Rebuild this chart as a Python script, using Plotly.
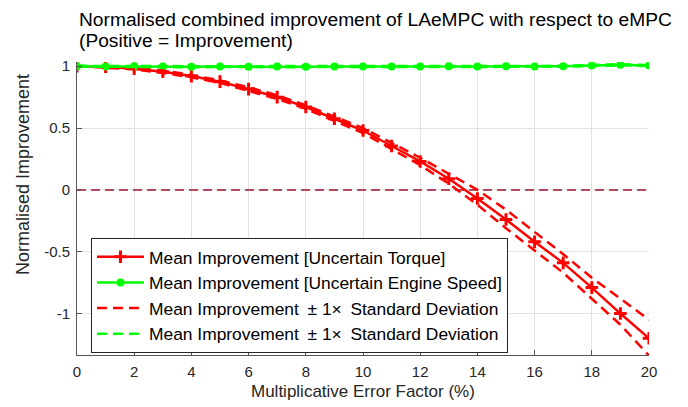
import plotly.graph_objects as go

# ---- data ----
x_factor = list(range(0, 21))

torque_mean = [1.0, 0.995, 0.98, 0.955, 0.92, 0.875, 0.815, 0.75, 0.67, 0.575, 0.48,
               0.355, 0.23, 0.09, -0.07, -0.24, -0.42, -0.59, -0.79, -1.0, -1.2]
torque_upper = [1.0, 1.0, 0.985, 0.965, 0.93, 0.885, 0.83, 0.765, 0.685, 0.59, 0.50,
                0.38, 0.26, 0.13, 0.0, -0.16, -0.34, -0.52, -0.71, -0.88, -1.05]
torque_lower = [1.0, 0.99, 0.975, 0.945, 0.91, 0.865, 0.80, 0.735, 0.655, 0.56, 0.46,
                0.33, 0.20, 0.05, -0.12, -0.31, -0.49, -0.67, -0.88, -1.09, -1.34]

speed_mean = [1.0, 0.998, 1.0, 0.998, 0.995, 0.997, 0.995, 0.998, 0.996, 0.998, 0.997,
              0.998, 0.997, 0.999, 0.998, 0.999, 0.998, 1.0, 1.005, 1.012, 1.005]
speed_upper = [1.003, 1.002, 1.004, 1.002, 0.999, 1.001, 0.999, 1.002, 1.0, 1.002, 1.001,
               1.002, 1.001, 1.003, 1.002, 1.003, 1.002, 1.004, 1.009, 1.016, 1.009]
speed_lower = [0.997, 0.994, 0.996, 0.994, 0.991, 0.993, 0.991, 0.994, 0.992, 0.994, 0.993,
               0.994, 0.993, 0.995, 0.994, 0.995, 0.994, 0.996, 1.001, 1.008, 1.001]

zero_x = [0, 20]
zero_y = [0, 0]

x_ticks = list(range(0, 21, 2))
y_ticks = [-1, -0.5, 0, 0.5, 1]
y_ticktext = ["-1", "-0.5", "0", "0.5", "1"]

names = ["Mean Improvement [Uncertain Torque]",
         "Mean Improvement [Uncertain Engine Speed]",
         "Mean Improvement\u2002\u00b1 1\u00d7\u2002Standard Deviation",
         "Mean Improvement\u2002\u00b1 1\u00d7\u2002Standard Deviation"]

title_lines = ["Normalised combined improvement of LAeMPC with respect to eMPC",
               "(Positive = Improvement)"]
x_label = "Multiplicative Error Factor (%)"
y_label = "Normalised Improvement"

RED = "#ff0000"
GREEN = "#00ff00"
FONT = "Liberation Sans, Arial, sans-serif"
TXT = "#262626"

fig = go.Figure()

fig.add_trace(go.Scatter(x=zero_x, y=zero_y, mode="lines",
                         line=dict(color="#a2142f", width=1.5, dash="9px,5px"),
                         showlegend=False, hoverinfo="skip"))

fig.add_trace(go.Scatter(x=x_factor, y=torque_mean, mode="lines+markers", name=names[0],
                         line=dict(color=RED, width=2.5),
                         marker=dict(symbol="cross-thin", size=9, color=RED,
                                     line=dict(color=RED, width=3))))
fig.add_trace(go.Scatter(x=x_factor, y=speed_mean, mode="lines+markers", name=names[1],
                         line=dict(color=GREEN, width=2.5),
                         marker=dict(symbol="circle", size=8, color=GREEN)))
fig.add_trace(go.Scatter(x=x_factor, y=torque_upper, mode="lines", name=names[2],
                         line=dict(color=RED, width=2.5, dash="10px,6px")))
fig.add_trace(go.Scatter(x=x_factor, y=torque_lower, mode="lines", name=names[2],
                         showlegend=False,
                         line=dict(color=RED, width=2.5, dash="10px,6px")))
fig.add_trace(go.Scatter(x=x_factor, y=speed_upper, mode="lines", name=names[3],
                         line=dict(color=GREEN, width=2.5, dash="10px,6px")))
fig.add_trace(go.Scatter(x=x_factor, y=speed_lower, mode="lines", name=names[3],
                         showlegend=False,
                         line=dict(color=GREEN, width=2.5, dash="10px,6px")))

L, T, PW, PH = 77, 62, 572, 293


def py(p):
    return (T + PH - p) / PH


def px(p):
    return (p - L) / PW


annotations = [
    dict(text=title_lines[0], x=0, y=py(19), xref="paper", yref="paper",
         xanchor="left", yanchor="middle", showarrow=False,
         font=dict(family=FONT, size=19.2, color="#000000")),
    dict(text=title_lines[1], x=0, y=py(40), xref="paper", yref="paper",
         xanchor="left", yanchor="middle", showarrow=False,
         font=dict(family=FONT, size=19.2, color="#000000")),
    dict(text=x_label, x=0.5, y=py(391), xref="paper", yref="paper",
         xanchor="center", yanchor="middle", showarrow=False,
         font=dict(family=FONT, size=17, color=TXT)),
    dict(text=y_label, x=px(23), y=py(175), xref="paper", yref="paper",
         xanchor="center", yanchor="middle", showarrow=False, textangle=-90,
         font=dict(family=FONT, size=18, color=TXT)),
]

fig.update_layout(
    width=688, height=407,
    margin=dict(l=L, r=688 - L - PW, t=T, b=407 - T - PH, pad=0),
    paper_bgcolor="white", plot_bgcolor="white",
    font=dict(family=FONT, color=TXT),
    annotations=annotations,
    legend=dict(x=px(91), y=py(353), xanchor="left", yanchor="bottom",
                bgcolor="white", bordercolor="#262626", borderwidth=1,
                font=dict(family=FONT, size=17.4, color="#000000"),
                itemwidth=47, traceorder="normal"),
    xaxis=dict(range=[0, 20], tickvals=x_ticks, ticks="inside", ticklen=5,
               tickcolor="#555555", showline=True, linecolor="#555555", linewidth=1,
               showgrid=True, gridcolor="#e3e3e3", gridwidth=1, zeroline=False,
               tickfont=dict(family=FONT, size=15, color=TXT), mirror=False,
               ticklabelstandoff=3),
    yaxis=dict(range=[-1.335, 1.034], tickvals=y_ticks, ticktext=y_ticktext,
               ticks="inside", ticklen=5, tickcolor="#555555", showline=True,
               linecolor="#555555", linewidth=1, showgrid=True, gridcolor="#e3e3e3",
               gridwidth=1, zeroline=False,
               tickfont=dict(family=FONT, size=15, color=TXT), ticklabelstandoff=3),
    showlegend=True,
)

fig.write_html("out.html")
